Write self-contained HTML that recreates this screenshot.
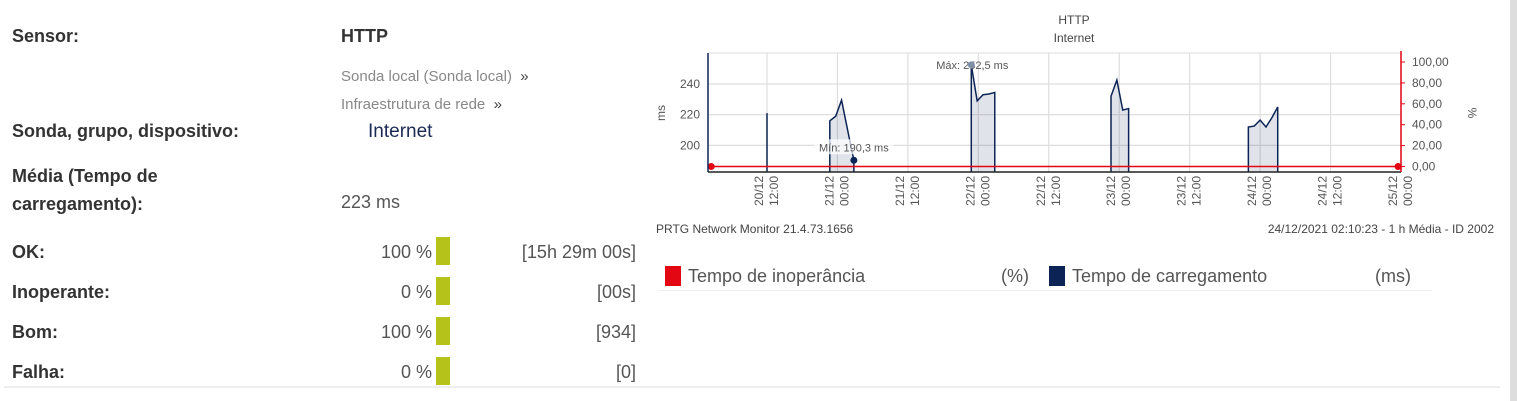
<!DOCTYPE html>
<html><head><meta charset="utf-8"><style>
body{margin:0;width:1517px;height:401px;background:#fff;position:relative;overflow:hidden;font-family:"Liberation Sans",sans-serif;}
.a{position:absolute;white-space:nowrap;}
.lbl{left:12px;font-size:18px;color:#333;font-weight:bold;}
.val{font-size:18px;color:#555;}
.bar{position:absolute;left:436px;width:14px;height:28px;background:#b5c21a;}
svg text{font-family:"Liberation Sans",sans-serif;}
</style></head><body>
<div class="a lbl" style="top:26px">Sensor:</div>
<div class="a" style="left:341px;top:26px;font-size:18px;color:#333;font-weight:bold">HTTP</div>
<div class="a" style="left:341px;top:68px;font-size:15px;color:#888">Sonda local (Sonda local) &nbsp;<span style="color:#444">»</span></div>
<div class="a" style="left:341px;top:96px;font-size:15px;color:#888">Infraestrutura de rede &nbsp;<span style="color:#444">»</span></div>
<div class="a lbl" style="top:121px">Sonda, grupo, dispositivo:</div>
<div class="a" style="left:368px;top:121px;font-size:19px;color:#1a2a55">Internet</div>
<div class="a lbl" style="top:162px;line-height:28px">Média (Tempo de<br>carregamento):</div>
<div class="a val" style="left:341px;top:192px">223 ms</div>

<div class="a lbl" style="top:242px">OK:</div>
<div class="a val" style="right:1085px;top:242px">100 %</div>
<div class="bar" style="top:237px"></div>
<div class="a val" style="right:881px;top:242px">[15h 29m 00s]</div>

<div class="a lbl" style="top:282px">Inoperante:</div>
<div class="a val" style="right:1085px;top:282px">0 %</div>
<div class="bar" style="top:277px"></div>
<div class="a val" style="right:881px;top:282px">[00s]</div>

<div class="a lbl" style="top:322px">Bom:</div>
<div class="a val" style="right:1085px;top:322px">100 %</div>
<div class="bar" style="top:317px"></div>
<div class="a val" style="right:881px;top:322px">[934]</div>

<div class="a lbl" style="top:362px">Falha:</div>
<div class="a val" style="right:1085px;top:362px">0 %</div>
<div class="bar" style="top:357px"></div>
<div class="a val" style="right:881px;top:362px">[0]</div>
<div class="a" style="left:4px;top:386px;width:1496px;height:2px;background:#eee"></div>
<div class="a" style="left:1510px;top:0;width:7px;height:401px;background:#ddd"></div>

<svg class="a" style="left:0;top:0" width="1517" height="401" id="chart"></svg>

<div class="a" style="left:665px;top:266px;width:16px;height:20px;background:#e30613"></div>
<div class="a" style="left:688px;top:266px;font-size:18px;color:#555">Tempo de inoperância</div>
<div class="a" style="left:1001px;top:266px;font-size:18px;color:#555">(%)</div>
<div class="a" style="left:1049px;top:266px;width:16px;height:20px;background:#0c2455"></div>
<div class="a" style="left:1072px;top:266px;font-size:18px;color:#555">Tempo de carregamento</div>
<div class="a" style="left:1375px;top:266px;font-size:18px;color:#555">(ms)</div>
<div class="a" style="left:659px;top:290px;width:773px;height:1px;background:#eee"></div>

<script>
// hours relative to 20/12 12:00
const segHours=[[0],[10.7,11.7,12.7,14,14.8],[34.8,35.8,36.8,37.8,38.8],[58.6,59.6,60.6,61.6],[82,83,84,85,86,87]];
const segValues=[[221],[216,219,229.5,205,190.3],[252.5,229,233,233.5,234.5],[232,242.6,223,224],[212,212.6,216.5,212,218,225]];
const downtimeHours=[-9.5,107.5];
const downtimeValues=[0,0];
const leftTicks=[200,220,240];
const rightTicks=[0,20,40,60,80,100];
const rightTickLabels=["0,00","20,00","40,00","60,00","80,00","100,00"];
const xTickHours=[0,12,24,36,48,60,72,84,96,108];
const xTickLabels=[["20/12","12:00"],["21/12","00:00"],["21/12","12:00"],["22/12","00:00"],["22/12","12:00"],["23/12","00:00"],["23/12","12:00"],["24/12","00:00"],["24/12","12:00"],["25/12","00:00"]];

const L=708,R=1401,T=53,B=172;
const x=h=>767+h*(634/108);
const y=v=>84-(v-240)*1.535;
const yr=p=>166.5-p*1.045;
const svg=document.getElementById('chart');
const NS='http://www.w3.org/2000/svg';
function mk(t,a,p){const e=document.createElementNS(NS,t);for(const k in a)e.setAttribute(k,a[k]);(p||svg).appendChild(e);return e;}

let e;
e=mk('rect',{x:L,y:T,width:R-L,height:B-T,fill:'#fff'});


mk('line',{x1:L,x2:R,y1:T,y2:T,stroke:'#ddd'});
leftTicks.forEach(v=>{
  e=mk('line',{x1:L,x2:R,y1:y(v),y2:y(v),stroke:'#ddd','stroke-width':1.2});
  
  
  e=mk('text',{x:L-8,y:y(v)+4,'text-anchor':'end','font-size':12,fill:'#555'});
  e.textContent=v;
  
  
});
xTickHours.forEach((h,i)=>{
  e=mk('line',{x1:x(h),x2:x(h),y1:T,y2:B,stroke:'#ddd','stroke-width':1.2});
  
  
  const lb=xTickLabels[i];
  [0,1].forEach(j=>{
    e=mk('text',{transform:`translate(${x(h)-4+j*15},176) rotate(-90)`,'text-anchor':'end','font-size':12,fill:'#555'});
    e.textContent=lb[j];
    
    
  });
});
segHours.forEach((hs,i)=>{
  const vs=segValues[i];
  let d=`M${x(hs[0])},${B}`;
  hs.forEach((h,k)=>d+=`L${x(h)},${y(vs[k])}`);
  d+=`L${x(hs[hs.length-1])},${B}`;
  e=mk('path',{d:d+'Z',fill:'rgba(12,36,85,0.13)',stroke:'none'});
  
  
  e=mk('path',{d,fill:'none',stroke:'#0c2455','stroke-width':1.5});
  
  
});
e=mk('line',{x1:L,x2:R,y1:yr(downtimeValues[0]),y2:yr(downtimeValues[1]),stroke:'#e30613','stroke-width':1.5});


downtimeHours.forEach((h,i)=>{
  e=mk('circle',{cx:x(h),cy:yr(downtimeValues[i]),r:3.5,fill:'#e30613'});
  
  
});
mk('line',{x1:L,x2:L,y1:T,y2:B,stroke:'#0c2455','stroke-width':1.5});
mk('line',{x1:L,x2:R,y1:B,y2:B,stroke:'#222','stroke-width':1.5});
mk('line',{x1:R,x2:R,y1:T-2,y2:B,stroke:'#e30613','stroke-width':1.5});
rightTicks.forEach((p,i)=>{
  mk('line',{x1:R,x2:R+4,y1:yr(p),y2:yr(p),stroke:'#e30613'});
  e=mk('text',{x:R+11,y:yr(p)+4,'font-size':12,fill:'#555'});
  e.textContent=rightTickLabels[i];
  
  
});
const maxV=Math.max(...segValues.flat()),minV=Math.min(...segValues.flat());
let maxH,minH;segValues.forEach((vs,i)=>vs.forEach((v,k)=>{if(v===maxV)maxH=segHours[i][k];if(v===minV)minH=segHours[i][k];}));
e=mk('text',{x:x(maxH)+1,y:y(maxV)+4,'text-anchor':'middle','font-size':11,fill:'#555'});
e.textContent='Máx: '+String(maxV).replace('.',',')+' ms';


e=mk('circle',{cx:x(maxH),cy:y(maxV),r:3.5,fill:'#8090a8'});


e=mk('rect',{x:x(minH)-40,y:y(minV)-21,width:80,height:15,fill:'rgba(255,255,255,0.7)'});
e=mk('text',{x:x(minH),y:y(minV)-9,'text-anchor':'middle','font-size':11,fill:'#555'});
e.textContent='Mín: '+String(minV).replace('.',',')+' ms';


e=mk('circle',{cx:x(minH),cy:y(minV),r:3.5,fill:'#0c2455'});



e=mk('text',{x:1074,y:24,'text-anchor':'middle','font-size':12,fill:'#444'});e.textContent='HTTP';


e=mk('text',{x:1074,y:42,'text-anchor':'middle','font-size':12,fill:'#444'});e.textContent='Internet';


e=mk('text',{transform:'translate(665,113) rotate(-90)','text-anchor':'middle','font-size':12,fill:'#555'});e.textContent='ms';


e=mk('text',{transform:'translate(1468,113) rotate(90)','text-anchor':'middle','font-size':12,fill:'#555'});e.textContent='%';


e=mk('text',{x:656,y:233,'font-size':12,fill:'#444'});e.textContent='PRTG Network Monitor 21.4.73.1656';


e=mk('text',{x:1494,y:233,'text-anchor':'end','font-size':12,fill:'#444'});e.textContent='24/12/2021 02:10:23 - 1 h Média - ID 2002';


</script>
</body></html>
